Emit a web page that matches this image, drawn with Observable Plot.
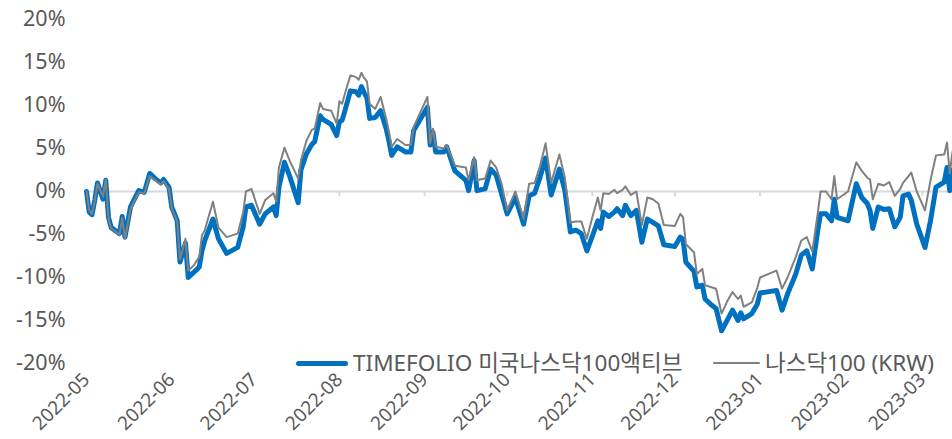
<!DOCTYPE html>
<html><head><meta charset="utf-8">
<script src="https://cdn.jsdelivr.net/npm/d3@7"></script>
<script src="https://cdn.jsdelivr.net/npm/@observablehq/plot@0.6"></script>
<style>
body{margin:0;background:#fff;}
#wrap{position:relative;width:952px;height:439px;font-family:"Noto Sans","Noto Sans CJK KR",sans-serif;color:#595959;}
.leg{position:absolute;display:flex;align-items:center;font-size:22.5px;white-space:nowrap;line-height:1;}
.sw{display:inline-block;margin-right:5px;}
</style></head><body><div id="wrap"></div>
<script>
const dates = ["2022-05-01","2022-05-02","2022-05-03","2022-05-04","2022-05-05","2022-05-07","2022-05-08","2022-05-09","2022-05-10","2022-05-13","2022-05-14","2022-05-15","2022-05-17","2022-05-20","2022-05-22","2022-05-24","2022-05-26","2022-05-28","2022-05-29","2022-05-31",
"2022-06-01","2022-06-03","2022-06-04","2022-06-06","2022-06-07","2022-06-09","2022-06-11","2022-06-12","2022-06-13","2022-06-16","2022-06-18","2022-06-21","2022-06-25","2022-06-27","2022-06-28","2022-06-30",
"2022-07-03","2022-07-05","2022-07-08","2022-07-09","2022-07-10","2022-07-12","2022-07-14","2022-07-17","2022-07-18","2022-07-20","2022-07-22","2022-07-23","2022-07-25","2022-07-26","2022-07-29","2022-07-31",
"2022-08-01","2022-08-02","2022-08-03","2022-08-05","2022-08-07","2022-08-08","2022-08-09","2022-08-10","2022-08-11","2022-08-12","2022-08-14","2022-08-16","2022-08-18","2022-08-19","2022-08-20","2022-08-22","2022-08-25","2022-08-27","2022-08-28",
"2022-09-02","2022-09-03","2022-09-04","2022-09-05","2022-09-08","2022-09-09","2022-09-12","2022-09-16","2022-09-17","2022-09-19","2022-09-20","2022-09-23","2022-09-25","2022-09-27","2022-09-29",
"2022-10-01","2022-10-04","2022-10-07","2022-10-09","2022-10-11","2022-10-13","2022-10-15","2022-10-17","2022-10-20","2022-10-22","2022-10-24","2022-10-26","2022-10-28","2022-10-30",
"2022-11-01","2022-11-03","2022-11-04","2022-11-05","2022-11-07","2022-11-09","2022-11-10","2022-11-12","2022-11-13","2022-11-15","2022-11-17","2022-11-19","2022-11-21","2022-11-23","2022-11-25","2022-11-27",
"2022-12-01","2022-12-03","2022-12-04","2022-12-05","2022-12-08","2022-12-09","2022-12-11","2022-12-12","2022-12-14","2022-12-16","2022-12-18","2022-12-20","2022-12-22","2022-12-24","2022-12-25","2022-12-26","2022-12-29","2022-12-31",
"2023-01-01","2023-01-07","2023-01-09","2023-01-11","2023-01-14","2023-01-16","2023-01-18","2023-01-20","2023-01-22","2023-01-23","2023-01-25","2023-01-27","2023-01-28","2023-01-29",
"2023-02-02","2023-02-05","2023-02-07","2023-02-09","2023-02-10","2023-02-11","2023-02-13","2023-02-15","2023-02-17","2023-02-19","2023-02-21","2023-02-22","2023-02-24","2023-02-25","2023-02-27",
"2023-03-02","2023-03-04","2023-03-06","2023-03-09","2023-03-10","2023-03-11","2023-03-12"];

const timefolio = [0.0,-2.4,-2.7,-1.0,1.0,-0.9,1.3,-3.0,-4.2,-4.9,-2.9,-5.3,-1.8,0.1,-0.1,2.1,1.5,1.0,1.4,0.5,
-1.8,-3.4,-8.2,-6.0,-10.0,-9.4,-8.8,-6.9,-5.7,-3.2,-5.5,-7.2,-6.5,-4.1,-1.8,-1.6,
-3.8,-2.6,-1.8,-2.8,0.5,3.4,1.7,-1.3,2.5,4.4,5.5,5.8,8.8,8.4,7.8,6.5,
8.1,8.3,9.4,11.7,11.6,11.2,12.2,11.5,10.9,8.5,8.6,9.4,7.3,5.9,4.2,5.2,4.6,4.6,7.1,
9.8,5.4,6.9,4.6,4.6,5.2,2.4,1.3,0.1,3.6,0.1,0.3,2.6,1.9,-0.3,
-2.6,-0.7,-3.8,-0.5,-0.2,1.7,3.9,-0.4,2.6,0.1,-4.7,-4.5,-4.9,-6.9,
-5.2,-3.4,-4.3,-2.4,-2.9,-2.4,-2.0,-2.8,-1.6,-2.8,-2.2,-5.9,-3.2,-3.6,-4.0,-6.2,
-6.4,-5.3,-5.6,-8.2,-9.3,-11.1,-10.9,-12.5,-13.1,-13.6,-16.2,-15.0,-13.8,-15.0,-14.1,-14.8,-14.2,-13.1,
-11.8,-11.5,-13.8,-11.9,-9.6,-7.4,-6.9,-9.0,-4.5,-2.6,-2.6,-3.4,-0.9,-3.0,
-3.4,0.9,-0.7,-1.4,-2.2,-4.3,-1.8,-2.1,-2.0,-4.1,-3.0,-0.5,-0.3,-1.0,-3.8,
-6.5,-3.4,0.5,1.1,2.8,0.1,2.5];

const nasdaq100 = [0.0,-2.2,-2.6,-1.1,0.9,-0.6,1.4,-3.2,-4.3,-5.0,-3.1,-5.5,-2.0,-0.1,-0.2,1.8,1.3,0.8,1.2,0.3,
-1.9,-3.5,-7.9,-5.5,-9.2,-8.6,-7.6,-5.1,-4.5,-1.2,-4.2,-5.3,-4.9,-2.4,0.0,0.3,
-2.6,-1.0,-0.2,-1.2,2.8,5.1,3.5,1.5,3.6,5.9,7.2,7.3,10.3,9.6,9.4,7.9,
10.5,10.2,11.4,13.5,13.3,13.0,13.8,13.2,12.8,10.2,9.6,11.0,8.5,7.0,5.2,6.1,5.4,5.4,7.5,
11.0,5.6,7.3,5.2,5.0,5.4,3.0,2.8,1.3,4.0,1.3,1.5,3.6,2.8,0.9,
-2.2,0.0,-3.2,0.9,1.0,3.0,5.6,1.0,4.3,1.6,-3.6,-3.5,-3.5,-5.5,
-3.0,-0.7,-2.2,-0.2,-0.3,0.2,-0.2,0.2,0.6,-0.4,0.0,-3.9,-0.7,-0.9,-1.4,-3.9,
-4.0,-2.6,-3.0,-6.1,-7.1,-9.6,-9.0,-10.9,-11.1,-11.3,-14.2,-12.8,-11.7,-12.5,-12.1,-13.4,-12.9,-11.2,
-10.0,-9.2,-11.3,-10.0,-7.6,-5.7,-5.3,-7.0,-2.5,0.0,0.0,-0.9,1.8,-0.9,
0.0,3.4,2.4,1.6,1.4,-0.9,0.9,0.7,1.1,-0.5,0.3,1.0,1.8,2.2,0.0,
-2.2,1.3,4.2,4.3,5.7,2.1,4.6];

const seriesNames = ["TIMEFOLIO 미국나스닥100액티브", "나스닥100 (KRW)"];
const seriesColors = ["#0070C0", "#808080"];
const monthTicks = ["2022-05-01","2022-06-01","2022-07-01","2022-08-01","2022-09-01","2022-10-01","2022-11-01","2022-12-01","2023-01-01","2023-02-01","2023-03-01"];
const yTicks = [-20,-15,-10,-5,0,5,10,15,20];

const rows = (vals) => dates.map((d, i) => ({date: new Date(d), value: vals[i]}));
const tickDates = monthTicks.map(d => new Date(d));

const chart = Plot.plot({
  width: 952, height: 439,
  marginLeft: 86, marginRight: 0, marginTop: 19, marginBottom: 76,
  x: {type: "utc", domain: [new Date("2022-05-01"), new Date("2023-03-12")]},
  y: {domain: [-20, 20]},
  style: {fontFamily: '"Noto Sans","Noto Sans CJK KR",sans-serif', color: "#595959", background: "white", overflow: "visible"},
  marks: [
    Plot.ruleY([0], {stroke: "#d9d9d9", strokeWidth: 2}),
    Plot.ruleX(tickDates, {y1: 0, y2: -0.6, stroke: "#d9d9d9", strokeWidth: 2}),
    Plot.axisY(yTicks, {tickSize: 0, tickPadding: 21, tickFormat: d => d + "%", fontSize: 21.5, fill: "#595959", label: null}),
    Plot.axisX(tickDates, {tickSize: 0, tickPadding: 13, tickRotate: -45, tickFormat: d3.utcFormat("%Y-%m"), fontSize: 19, fill: "#595959", label: null}),
    Plot.line(rows(timefolio), {x: "date", y: "value", stroke: seriesColors[0], strokeWidth: 5, strokeLinejoin: "round"}),
    Plot.line(rows(nasdaq100), {x: "date", y: "value", stroke: seriesColors[1], strokeWidth: 2, strokeLinejoin: "round"})
  ]
});
const wrap = document.getElementById("wrap");
wrap.appendChild(chart);

const legendSpec = [
  {left: 296, w: 52, h: 5},
  {left: 713, w: 47, h: 2}
];
seriesNames.forEach((name, i) => {
  const div = document.createElement("div");
  div.className = "leg";
  div.style.left = legendSpec[i].left + "px";
  div.style.top = (363 - 12) + "px";
  div.style.height = "24px";
  const sw = document.createElement("span");
  sw.className = "sw";
  sw.style.width = legendSpec[i].w + "px";
  sw.style.height = legendSpec[i].h + "px";
  sw.style.background = seriesColors[i];
  sw.style.borderRadius = "3px";
  const tx = document.createElement("span");
  tx.textContent = name;
  div.appendChild(sw);
  div.appendChild(tx);
  wrap.appendChild(div);
});
</script></body></html>
